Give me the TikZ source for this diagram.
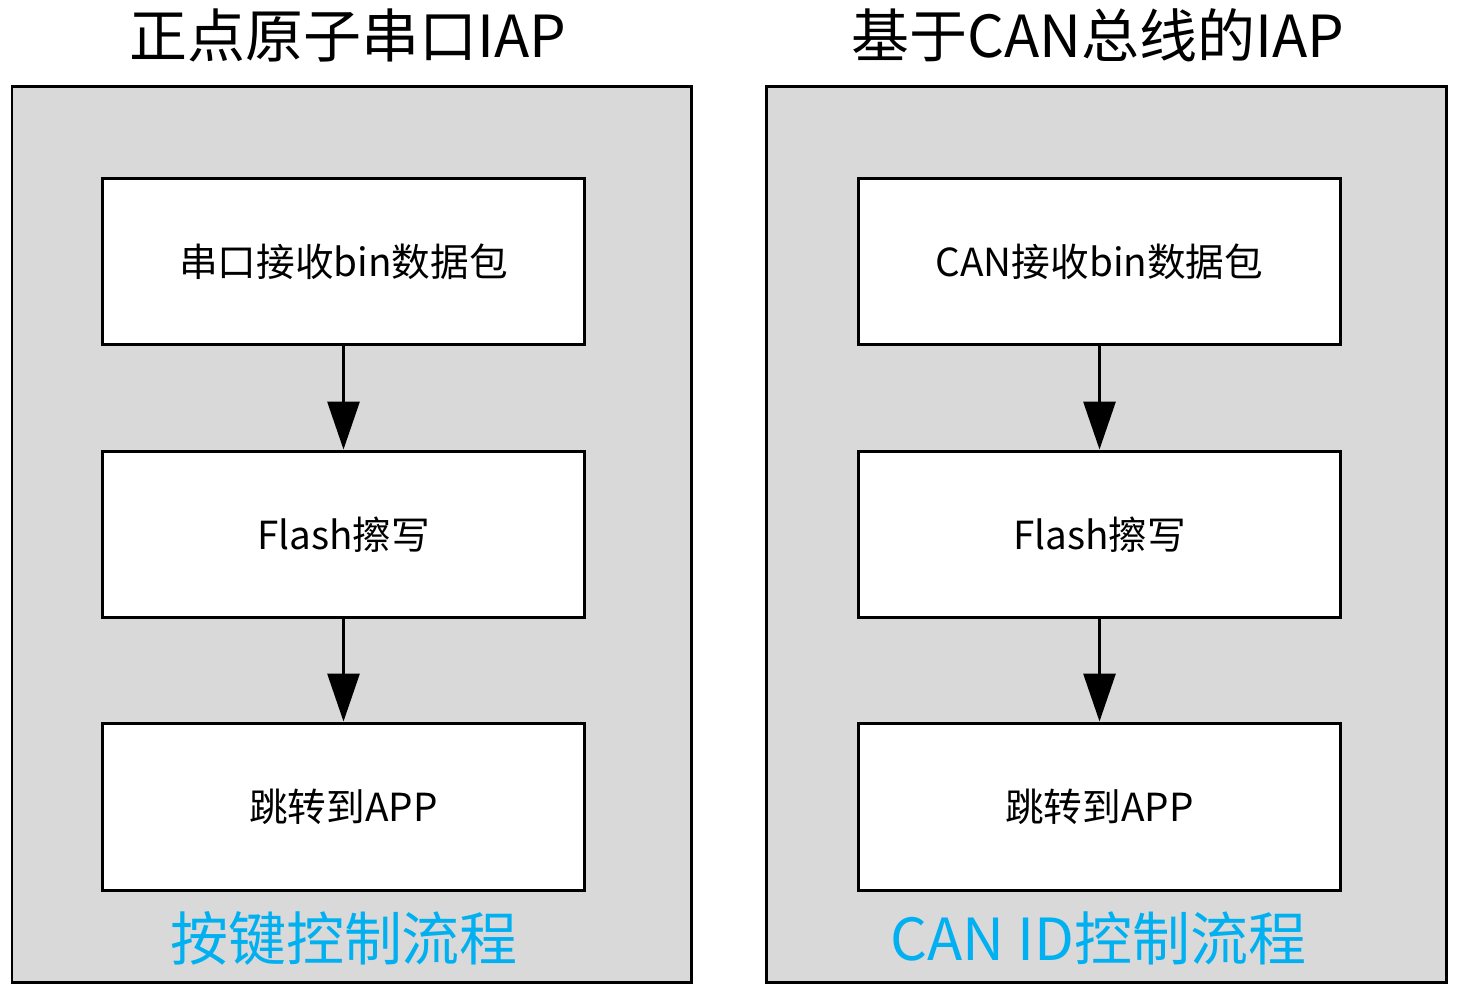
\documentclass[tikz,border=0pt]{standalone}
\usepackage{fontspec}
\setmainfont{Noto Sans CJK SC}
\usetikzlibrary{arrows.meta}
\definecolor{panelgray}{RGB}{217,217,217}
\definecolor{labelblue}{RGB}{0,176,240}
\tikzset{
  panel/.style={draw=black, fill=panelgray, line width=0.06cm},
  stepbox/.style={draw=black, fill=white, line width=0.06cm, minimum width=9.66cm, minimum height=3.34cm, inner sep=0pt, font=\fontsize{22}{26}\selectfont},
  flow/.style={line width=0.06cm, -{Triangle[length=0.96cm, width=0.64cm]}},
  paneltitle/.style={font=\fontsize{33}{38}\selectfont},
  panellabel/.style={text=labelblue, font=\fontsize{33}{38}\selectfont}
}
\begin{document}
\begin{tikzpicture}[x=0.02cm, y=-0.02cm]
            \useasboundingbox (0,0) rectangle (1457,995);

            % Drawing panel left
            \draw [panel] (12,86) rectangle (691,982);%
            \node [paneltitle] (titleL) at (348,35) {正点原子串口IAP};%

            % Drawing panel right
            \draw [panel] (766,86) rectangle (1446,982);%
            \node [paneltitle] (titleR) at (1098,35) {基于CAN总线的IAP};%

            % Steps left
            \node [stepbox] (recvL) at (343.5,261.5) {串口接收bin数据包};%
            \node [stepbox] (flashL) at (343.5,534.5) {Flash擦写};%
            \node [stepbox] (jumpL) at (343.5,806.5) {跳转到APP};%
            \draw [flow] (recvL) -- (flashL);%
            \draw [flow] (flashL) -- (jumpL);%
            \node [panellabel] (ctrlL) at (344,938) {按键控制流程};%

            % Steps right
            \node [stepbox] (recvR) at (1099.5,261.5) {CAN接收bin数据包};%
            \node [stepbox] (flashR) at (1099.5,534.5) {Flash擦写};%
            \node [stepbox] (jumpR) at (1099.5,806.5) {跳转到APP};%
            \draw [flow] (recvR) -- (flashR);%
            \draw [flow] (flashR) -- (jumpR);%
            \node [panellabel] (ctrlR) at (1098,938) {CAN ID控制流程};%
\end{tikzpicture}
\end{document}
